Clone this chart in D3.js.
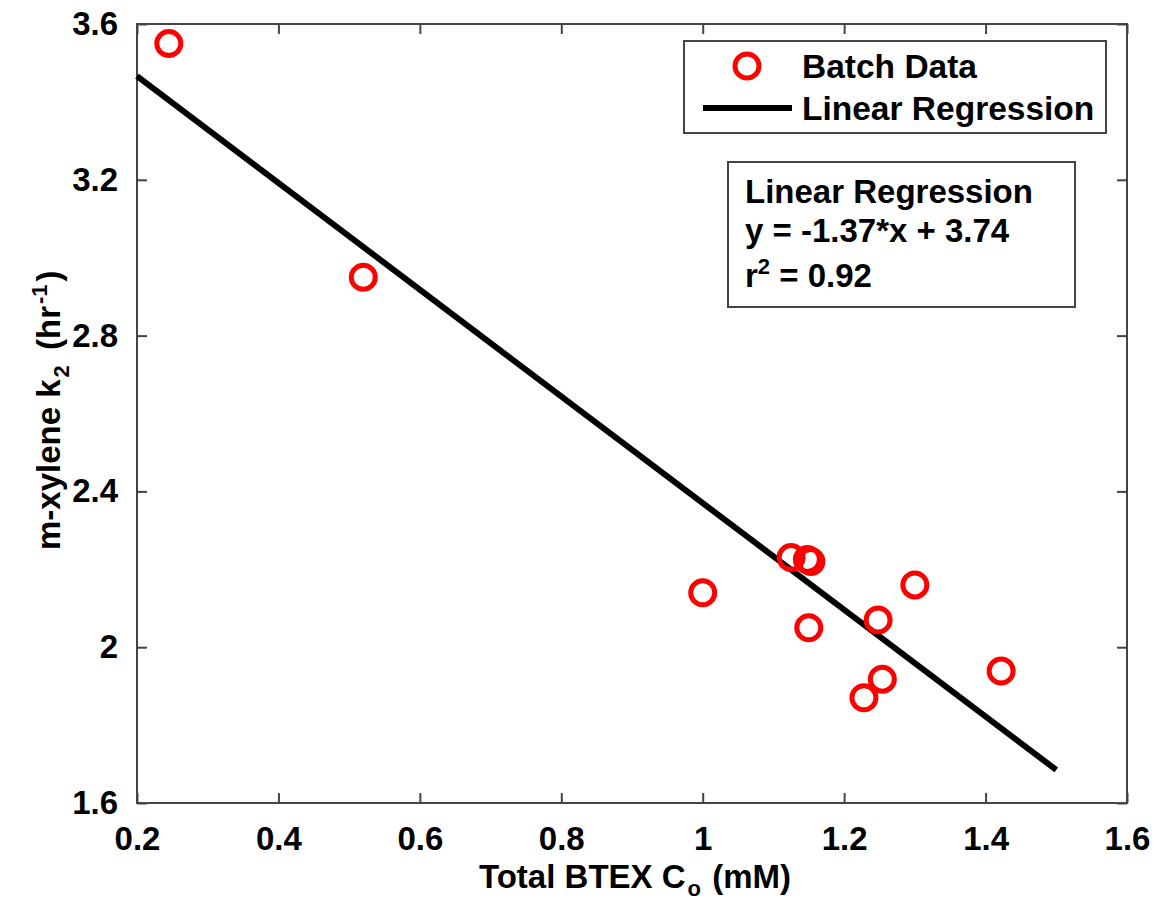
<!DOCTYPE html>
<html>
<head>
<meta charset="utf-8">
<script src="https://cdn.jsdelivr.net/npm/d3@7"></script>
<style>
  body { margin: 0; background: #fff; }
  text { font-family: "Liberation Sans", Arial, sans-serif; font-weight: bold; fill: #000; }
</style>
</head>
<body>
<svg id="chart" width="1158" height="901"></svg>
<script>
// Data
const batchX = [0.245, 0.52, 1.0, 1.125, 1.148, 1.153, 1.15, 1.248, 1.30, 1.254, 1.228, 1.422];
const batchY = [3.55, 2.95, 2.14, 2.23, 2.225, 2.22, 2.05, 2.07, 2.16, 1.918, 1.87, 1.939];
const slope = -1.37, intercept = 3.74;
const fitX = [0.2, 1.5];
const xTicks = [0.2, 0.4, 0.6, 0.8, 1, 1.2, 1.4, 1.6];
const yTicks = [1.6, 2, 2.4, 2.8, 3.2, 3.6];
const legendLabels = ["Batch Data", "Linear Regression"];
const statLines = ["Linear Regression", "y = -1.37*x + 3.74"];

const svg = d3.select("#chart");
const L = 137, R = 1127, T = 24, B = 803;
const x = d3.scaleLinear().domain([0.2, 1.6]).range([L, R]);
const y = d3.scaleLinear().domain([1.6, 3.6]).range([B, T]);
const axisColor = "#444";

// frame
svg.append("rect").attr("x", L).attr("y", T).attr("width", R - L).attr("height", B - T)
  .attr("fill", "none").attr("stroke", axisColor).attr("stroke-width", 2);

const tickLen = 10;
function styleAxis(g) {
  g.select(".domain").remove();
  g.selectAll(".tick line").attr("stroke", axisColor).attr("stroke-width", 2);
  g.selectAll(".tick text").style("font-size", "33px").attr("fill", "#000");
}
// bottom
svg.append("g").attr("transform", `translate(0,${B})`)
  .call(d3.axisBottom(x).tickValues(xTicks).tickSizeInner(-tickLen).tickSizeOuter(0).tickPadding(24).tickFormat(d3.format("~g")))
  .call(styleAxis);
// top
svg.append("g").attr("transform", `translate(0,${T})`)
  .call(d3.axisTop(x).tickValues(xTicks).tickSizeInner(-tickLen).tickSizeOuter(0).tickFormat(""))
  .call(styleAxis);
// left
svg.append("g").attr("transform", `translate(${L},0)`)
  .call(d3.axisLeft(y).tickValues(yTicks).tickSizeInner(-tickLen).tickSizeOuter(0).tickPadding(19).tickFormat(d3.format("~g")))
  .call(styleAxis);
// right
svg.append("g").attr("transform", `translate(${R},0)`)
  .call(d3.axisRight(y).tickValues(yTicks).tickSizeInner(-tickLen).tickSizeOuter(0).tickFormat(""))
  .call(styleAxis);

// regression line
svg.append("line")
  .attr("x1", x(fitX[0])).attr("y1", y(slope * fitX[0] + intercept))
  .attr("x2", x(fitX[1])).attr("y2", y(slope * fitX[1] + intercept))
  .attr("stroke", "#000").attr("stroke-width", 6);

// points
svg.append("g").selectAll("circle").data(batchX.map((d, i) => [d, batchY[i]])).join("circle")
  .attr("cx", d => x(d[0])).attr("cy", d => y(d[1])).attr("r", 12)
  .attr("fill", "none").attr("stroke", "#ff0000").attr("stroke-width", 5);

// x title
const xt = svg.append("text").attr("x", 635).attr("y", 888).attr("text-anchor", "middle").style("font-size", "33px");
xt.append("tspan").text("Total BTEX C");
xt.append("tspan").attr("dy", 8).attr("dx", 2).style("font-size", "22px").text("o");
xt.append("tspan").attr("dy", -8).attr("dx", 2).text(" (mM)");

// y title
const yt = svg.append("text").attr("transform", "translate(60,550) rotate(-90)").attr("text-anchor", "start").style("font-size", "33px");
yt.append("tspan").text("m-xylene k");
yt.append("tspan").attr("dy", 9).attr("dx", 2).style("font-size", "22px").text("2");
yt.append("tspan").attr("dy", -9).attr("dx", 6).text(" (hr");
yt.append("tspan").attr("dy", -13).attr("dx", 2).style("font-size", "22px").text("-1");
yt.append("tspan").attr("dy", 13).attr("dx", 3).text(")");

// legend
svg.append("rect").attr("x", 684).attr("y", 41).attr("width", 422).attr("height", 92)
  .attr("fill", "#fff").attr("stroke", axisColor).attr("stroke-width", 2);
svg.append("circle").attr("cx", 747).attr("cy", 66).attr("r", 12)
  .attr("fill", "none").attr("stroke", "#ff0000").attr("stroke-width", 5);
svg.append("line").attr("x1", 703).attr("x2", 792).attr("y1", 108).attr("y2", 108)
  .attr("stroke", "#000").attr("stroke-width", 6);
svg.append("text").attr("x", 802).attr("y", 78).style("font-size", "33.5px").text(legendLabels[0]);
svg.append("text").attr("x", 802).attr("y", 120).style("font-size", "33.5px").text(legendLabels[1]);

// stats box
svg.append("rect").attr("x", 728).attr("y", 162).attr("width", 347).attr("height", 145)
  .attr("fill", "#fff").attr("stroke", axisColor).attr("stroke-width", 2);
svg.append("text").attr("x", 745).attr("y", 203).style("font-size", "33px").text(statLines[0]);
svg.append("text").attr("x", 745).attr("y", 242).style("font-size", "33px").text(statLines[1]);
const r2 = svg.append("text").attr("x", 745).attr("y", 287).style("font-size", "33px");
r2.append("tspan").text("r");
r2.append("tspan").attr("dy", -13).style("font-size", "22px").text("2");
r2.append("tspan").attr("dy", 13).text(" = 0.92");
</script>
</body>
</html>
